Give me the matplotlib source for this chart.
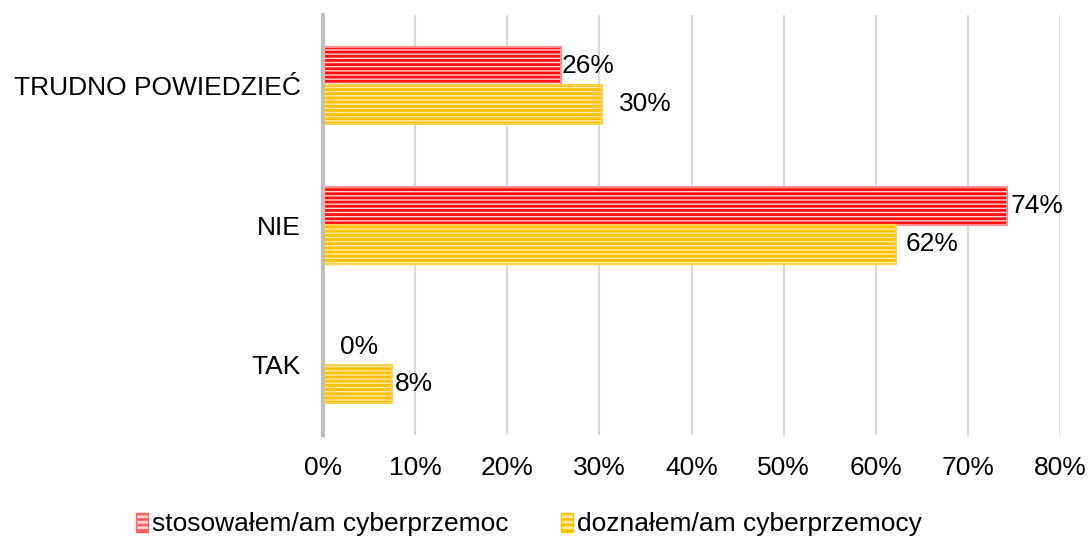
import numpy as np
import matplotlib.pyplot as plt
from matplotlib.patches import Patch

plt.rcParams['font.family'] = ['Liberation Sans', 'DejaVu Sans']
plt.rcParams['hatch.linewidth'] = 2.0

categories = ['TAK', 'NIE', 'TRUDNO POWIEDZIEĆ']
stosowal = [0, 74.2, 25.8]
doznal = [7.5, 62.2, 30.3]
series_names = ['stosowałem/am cyberprzemoc', 'doznałem/am cyberprzemocy']
xticks = [0, 10, 20, 30, 40, 50, 60, 70, 80]

# przesunięcia etykiet (w punktach), jak w oryginale z Excela
off_stos = [(12, -1), (3, 0), (1, 0)]
off_dozn = [(2, 0), (7, 0), (12, 0)]

FS = 19

fig = plt.figure(figsize=(10.89, 5.39), dpi=100)
ax = fig.add_axes([0.2966, 0.193, 0.6768, 0.779])

y = np.arange(len(categories))
h = 0.275

# czerwone (stosowałem)
ax.barh(y + h / 2, stosowal, height=h, color='#ffd5d5', edgecolor='#ff1010',
        hatch='----', linewidth=0, zorder=3)
ax.barh(y + h / 2, stosowal, height=h, color='none', edgecolor='#ff9090',
        linewidth=1.5, zorder=4)
# żółte (doznałem)
ax.barh(y - h / 2, doznal, height=h, color='#ffeaa8', edgecolor='#ffc000',
        hatch='----', linewidth=0, zorder=3)
ax.barh(y - h / 2, doznal, height=h, color='none', edgecolor='#ffd24d',
        linewidth=1.5, zorder=4)

for i in range(len(categories)):
    ax.annotate(f'{stosowal[i]:.0f}%', (stosowal[i], y[i] + h / 2), xytext=off_stos[i],
                textcoords='offset points', va='center', ha='left', fontsize=FS)
    ax.annotate(f'{doznal[i]:.0f}%', (doznal[i], y[i] - h / 2), xytext=off_dozn[i],
                textcoords='offset points', va='center', ha='left', fontsize=FS)

ax.set_xlim(0, 80)
ax.set_ylim(-0.5, 2.5)
ax.set_xticks(xticks)
ax.set_xticklabels([f'{t}%' for t in xticks], fontsize=FS)
ax.set_yticks(y)
ax.set_yticklabels(categories, fontsize=FS)
ax.tick_params(axis='x', length=0, pad=15)
ax.tick_params(axis='y', length=0, pad=16)
ax.grid(axis='x', color='#d9d9d9', linewidth=1.5, zorder=0)
for s in ['top', 'right', 'bottom']:
    ax.spines[s].set_visible(False)
ax.spines['left'].set_color('#bfbfbf')
ax.spines['left'].set_linewidth(3)
ax.spines['left'].set_zorder(5)

handles = [
    Patch(facecolor='#ffd5d5', edgecolor='#ff6060', hatch='---', linewidth=1),
    Patch(facecolor='#ffeaa8', edgecolor='#ffc000', hatch='---', linewidth=1),
]
fig.legend(handles, series_names, loc='center', bbox_to_anchor=(0.486, 0.027),
           ncol=2, frameon=False, fontsize=FS, handlelength=0.45, handleheight=0.75,
           handletextpad=0.15, columnspacing=2.0)

fig.savefig('out.png', dpi=100)
